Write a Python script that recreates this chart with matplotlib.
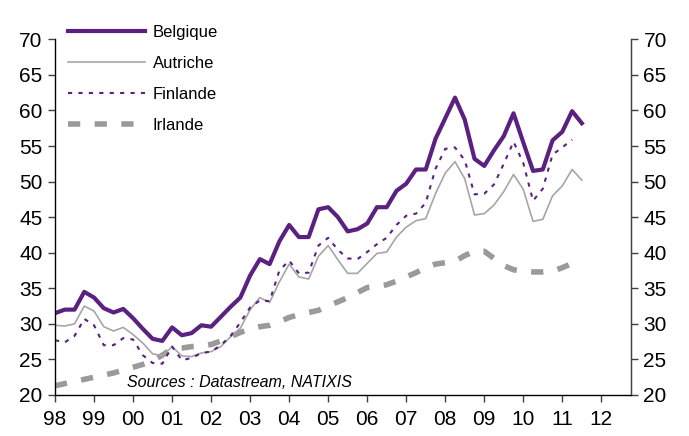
import numpy as np
import matplotlib.pyplot as plt
from matplotlib.ticker import FixedLocator

# quarterly data, 1998Q1 onwards
belgique = [31.5, 32.0, 32.0, 34.5, 33.7, 32.2, 31.6, 32.1, 30.8, 29.3,
            27.9, 27.6, 29.5, 28.4, 28.7, 29.8, 29.6, 31.0, 32.4, 33.7,
            36.8, 39.1, 38.4, 41.6, 43.9, 42.2, 42.2, 46.1, 46.4, 45.0,
            43.0, 43.3, 44.1, 46.4, 46.4, 48.7, 49.7, 51.7, 51.7, 56.0,
            58.9, 61.8, 58.7, 53.2, 52.2, 54.4, 56.4, 59.6, 55.5, 51.5,
            51.7, 55.8, 57.0, 59.9, 58.2]
autriche = [29.8, 29.7, 30.0, 32.5, 31.8, 29.6, 29.0, 29.5, 28.5, 27.3,
            25.8, 25.5, 26.8, 25.5, 25.4, 25.9, 26.1, 26.8, 28.2, 29.4,
            32.0, 33.7, 33.0, 35.9, 38.4, 36.6, 36.3, 39.5, 41.0, 39.0,
            37.1, 37.1, 38.5, 39.9, 40.1, 42.2, 43.6, 44.5, 44.8, 48.3,
            51.2, 52.8, 50.4, 45.3, 45.5, 46.7, 48.6, 51.0, 48.9, 44.4,
            44.7, 48.0, 49.4, 51.7, 50.2]
finlande = [27.7, 27.4, 28.3, 30.7, 29.8, 27.0, 27.0, 28.0, 27.8, 25.6,
            24.5, 24.4, 26.8, 24.9, 25.2, 25.9, 26.1, 27.0, 28.3, 30.2,
            32.3, 33.3, 33.2, 37.5, 38.9, 37.1, 37.2, 41.0, 42.1, 40.4,
            39.2, 39.1, 40.1, 41.2, 42.1, 43.9, 45.2, 45.5, 47.0, 51.8,
            54.6, 54.8, 53.0, 48.2, 48.3, 49.6, 52.5, 55.6, 52.6, 47.3,
            49.0, 53.8, 54.8, 55.9]
irlande = [21.3, 21.6, 21.9, 22.2, 22.5, 22.8, 23.1, 23.5, 23.9, 24.3,
           24.8, 25.6, 26.5, 26.6, 26.8, 26.9, 27.1, 27.6, 28.2, 28.8,
           29.3, 29.6, 29.8, 30.3, 30.9, 31.3, 31.6, 31.9, 32.5, 33.1,
           33.7, 34.4, 35.1, 35.3, 35.5, 36.0, 36.6, 37.2, 37.9, 38.4,
           38.6, 38.8, 39.6, 40.2, 40.2, 39.2, 38.2, 37.6, 37.4, 37.3,
           37.3, 37.4, 37.9, 38.5]
years = list(range(1998, 2013))
year_labels = ['98', '99', '00', '01', '02', '03', '04', '05', '06', '07',
               '08', '09', '10', '11', '12']
y_ticks = [20, 25, 30, 35, 40, 45, 50, 55, 60, 65, 70]

plt.rcParams['font.family'] = ['Liberation Sans', 'DejaVu Sans']

def quarters(n):
    return 1998 + 0.25 * np.arange(n)

purple = '#5B2180'
grey_light = '#A6A6A6'
grey_dash = '#9A9A9A'
axis_col = '#404040'

fig = plt.figure(figsize=(6.89, 4.36), dpi=100)
ax = fig.add_axes([55 / 689, 1 - 395 / 436, 576 / 689, 355.7 / 436])

ax.plot(quarters(len(irlande)), irlande, color=grey_dash, lw=4.0,
        dashes=(2.2, 2.6), label='Irlande', zorder=1)
ax.plot(quarters(len(autriche)), autriche, color=grey_light, lw=1.2,
        label='Autriche', zorder=2)
ax.plot(quarters(len(finlande)), finlande, color=purple, lw=1.5,
        dashes=(2, 3), label='Finlande', zorder=3)
ax.plot(quarters(len(belgique)), belgique, color=purple, lw=3.0,
        label='Belgique', zorder=4)

ax.set_xlim(1998, 2012.76)
ax.set_ylim(20, 70)
ax.xaxis.set_major_locator(FixedLocator(years))
ax.set_xticklabels(year_labels)
ax.set_yticks(y_ticks)

ax.spines['top'].set_visible(False)
for s in ['left', 'right', 'bottom']:
    ax.spines[s].set_color(axis_col)
    ax.spines[s].set_linewidth(1.0)
ax.tick_params(axis='x', direction='out', length=5, width=1, color=axis_col,
               labelsize=15, pad=6)
ax.tick_params(axis='y', direction='out', length=5, width=1, color=axis_col,
               labelsize=15, pad=4)

ax2 = ax.twinx()
ax2.set_ylim(20, 70)
ax2.set_yticks(y_ticks)
ax2.spines['top'].set_visible(False)
ax2.spines['right'].set_color(axis_col)
ax2.tick_params(axis='y', direction='out', length=5, width=1, color=axis_col,
                labelsize=15, pad=4)

handles, labels = ax.get_legend_handles_labels()
order = [3, 1, 2, 0]
leg = fig.legend([handles[i] for i in order], [labels[i] for i in order],
                 loc='upper left', bbox_to_anchor=(68 / 689, 1 - 25 / 436),
                 frameon=False, fontsize=12, handlelength=4.6,
                 handletextpad=0.5, labelspacing=0.95, borderpad=0,
                 borderaxespad=0)

ax.text(127, 436 - 382, 'Sources : Datastream, NATIXIS', transform=None,
        fontsize=11.5, style='italic', va='center', ha='left')

fig.savefig('out.png', dpi=100)
